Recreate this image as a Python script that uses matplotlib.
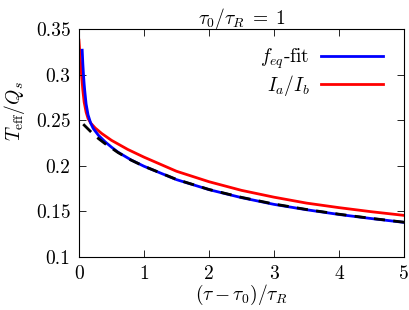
import matplotlib
matplotlib.use("Agg")
import matplotlib.pyplot as plt
from matplotlib.ticker import FuncFormatter

plt.rcParams["font.family"] = "cmr10"
plt.rcParams["mathtext.fontset"] = "cm"
plt.rcParams["axes.unicode_minus"] = False
plt.rcParams["font.size"] = 14

# I_a/I_b (red)
x_red = [0.0, 0.02, 0.04, 0.06, 0.08, 0.11, 0.14, 0.18, 0.25, 0.35, 0.5, 0.75, 1.0,
         1.5, 2.0, 2.5, 3.0, 3.5, 4.0, 4.5, 5.0]
y_red = [0.338, 0.318, 0.300, 0.283, 0.270, 0.259, 0.252, 0.247, 0.2415, 0.2355, 0.228, 0.218, 0.2095,
         0.194, 0.1825, 0.173, 0.1655, 0.159, 0.154, 0.1495, 0.1455]

# f_eq-fit (blue)
x_blue = [0.05, 0.06, 0.07, 0.08, 0.09, 0.11, 0.14, 0.18, 0.22, 0.3, 0.4, 0.5, 0.6, 0.8, 1.0,
          1.5, 2.0, 2.5, 3.0, 3.5, 4.0, 4.5, 5.0]
y_blue = [0.327, 0.312, 0.300, 0.290, 0.282, 0.268, 0.256, 0.247, 0.241, 0.2335, 0.2265, 0.2205, 0.215, 0.2065, 0.1995,
          0.1848, 0.1738, 0.1650, 0.1576, 0.1517, 0.1465, 0.1420, 0.1378]

# black dashed reference
x_black = [0.066, 0.2, 0.3, 0.4, 0.6, 0.8, 1.0, 1.5, 2.0, 2.5, 3.0, 3.5, 4.0, 4.5, 5.0]
y_black = [0.2457, 0.2362, 0.2299, 0.2244, 0.2146, 0.2063, 0.1995, 0.1850, 0.1740, 0.1653, 0.1580, 0.1520, 0.1468, 0.1422, 0.1380]

fig = plt.figure(figsize=(4.09, 3.10), dpi=100)
ax = fig.add_axes([0.193, 0.1716, 0.795, 0.734])

ax.plot(x_black, y_black, color="black", lw=2.0, dashes=(4, 3), zorder=3)
ax.plot(x_blue, y_blue, color="#0000ff", lw=2.0, label=r"$f_{eq}$-fit", zorder=2)
ax.plot(x_red, y_red, color="#ff0000", lw=2.0, label=r"$I_a/I_b$", zorder=1)

ax.set_xlim(0, 5)
ax.set_ylim(0.1, 0.35)
ax.set_xticks([0, 1, 2, 3, 4, 5])
ax.set_yticks([0.1, 0.15, 0.2, 0.25, 0.3, 0.35])
ax.yaxis.set_major_formatter(FuncFormatter(lambda v, p: "%g" % v))
ax.xaxis.set_major_formatter(FuncFormatter(lambda v, p: "%g" % v))
ax.tick_params(direction="in", top=True, right=True, length=5, width=0.6, pad=6)
for s in ax.spines.values():
    s.set_linewidth(0.8)

ax.set_xlabel(r"$(\tau-\tau_0)/\tau_R$", labelpad=0)
ax.set_ylabel(r"$T_{\rm eff}/Q_s$")
ax.yaxis.set_label_coords(-0.16, 0.64)
ax.set_title(r"$\tau_0/\tau_R\;=\;1$", fontsize=14, pad=4)

leg = ax.legend(loc="upper right", bbox_to_anchor=(0.96, 0.96), frameon=False,
                markerfirst=False, handlelength=3.2, handletextpad=0.6,
                labelspacing=0.1, borderaxespad=0)

fig.savefig("out.png", dpi=100)
